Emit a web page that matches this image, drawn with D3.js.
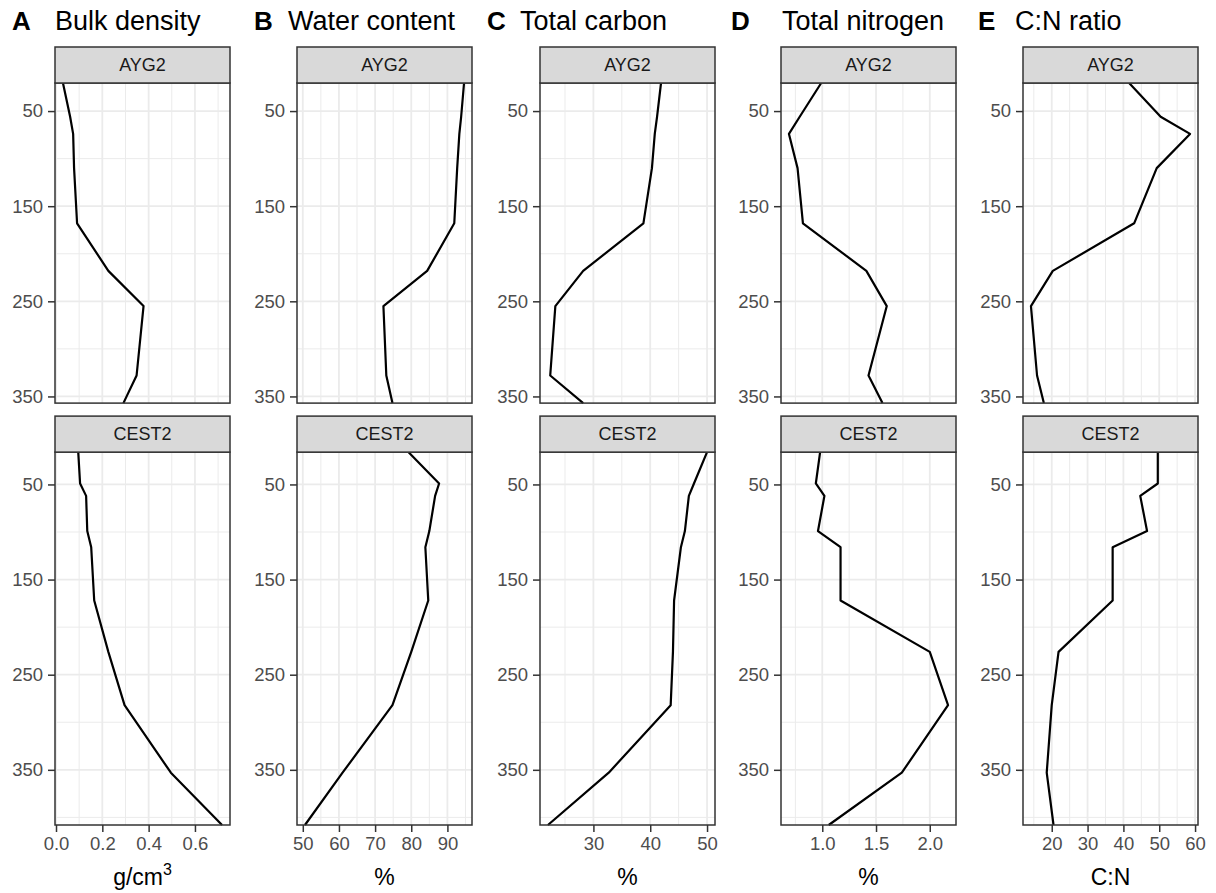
<!DOCTYPE html>
<html>
<head>
<meta charset="utf-8">
<script src="https://cdn.jsdelivr.net/npm/d3@7"></script>
<style>
  body { margin: 0; background: #fff; }
  svg { display: block; font-family: "Liberation Sans", Arial, sans-serif; }
</style>
</head>
<body>
<div id="chart"></div>
<script>
// Chart size
const width = 1216;
const height = 893;

// Sites (facet rows) and sample depths (cm, plotted downwards)
const sites = ["AYG2", "CEST2"];
const depthAYG2  = [20.5, 56, 74, 110, 168, 218, 255, 328, 357];
const depthCEST2 = [16, 49, 62, 99, 116, 172, 226, 282, 353, 408];

// A: bulk density (g/cm3)
const bulkAYG2  = [0.030, 0.061, 0.074, 0.078, 0.091, 0.226, 0.378, 0.348, 0.291];
const bulkCEST2 = [0.096, 0.104, 0.130, 0.135, 0.152, 0.165, 0.226, 0.296, 0.496, 0.717];

// B: water content (%)
const waterAYG2  = [94.6, 93.8, 93.3, 92.7, 91.9, 84.4, 72.3, 73.1, 74.8];
const waterCEST2 = [79.2, 87.7, 86.6, 85.0, 83.9, 84.7, 80.0, 74.8, 61.0, 50.6];

// C: total carbon (%)
const carbonAYG2  = [41.9, 41.2, 40.8, 40.3, 38.8, 28.2, 23.3, 22.4, 28.2];
const carbonCEST2 = [50.0, 47.7, 46.8, 46.1, 45.4, 44.2, 44.0, 43.6, 32.7, 22.0];

// D: total nitrogen (%)
const nitrogenAYG2  = [0.99, 0.79, 0.69, 0.77, 0.82, 1.41, 1.60, 1.43, 1.56];
const nitrogenCEST2 = [0.98, 0.94, 1.02, 0.96, 1.17, 1.17, 2.00, 2.17, 1.74, 1.06];

// E: C:N ratio
const cnAYG2  = [41.6, 50.4, 58.6, 49.3, 43.0, 20.3, 14.2, 15.9, 17.8];
const cnCEST2 = [49.6, 49.6, 44.7, 46.6, 37.0, 37.0, 21.9, 20.0, 18.6, 20.5];

// Tick labels
const depthTicks    = [50, 150, 250, 350];
const bulkTicks     = [0, 0.2, 0.4, 0.6];
const waterTicks    = [50, 60, 70, 80, 90];
const carbonTicks   = [30, 40, 50];
const nitrogenTicks = [1.0, 1.5, 2.0];
const cnTicks       = [20, 30, 40, 50, 60];

const panels = [
  { letter: "A", title: "Bulk density",   unit: "g/cm", sup: "3", data: { AYG2: bulkAYG2, CEST2: bulkCEST2 },         ticks: bulkTicks,     fmt: d3.format(".1f") },
  { letter: "B", title: "Water content",  unit: "%",              data: { AYG2: waterAYG2, CEST2: waterCEST2 },       ticks: waterTicks,    fmt: d3.format("d") },
  { letter: "C", title: "Total carbon",   unit: "%",              data: { AYG2: carbonAYG2, CEST2: carbonCEST2 },     ticks: carbonTicks,   fmt: d3.format("d") },
  { letter: "D", title: "Total nitrogen", unit: "%",              data: { AYG2: nitrogenAYG2, CEST2: nitrogenCEST2 }, ticks: nitrogenTicks, fmt: d3.format(".1f") },
  { letter: "E", title: "C:N ratio",      unit: "C:N",            data: { AYG2: cnAYG2, CEST2: cnCEST2 },             ticks: cnTicks,       fmt: d3.format("d") }
];
const depths = { AYG2: depthAYG2, CEST2: depthCEST2 };

// Layout
const panelLeft = [55, 297, 540, 781, 1023];
const panelW = 175;
const letterX = [12, 254, 487, 731, 978];
const titleX = [55, 288, 520, 782, 1015];
const stripH = 36;
const stripTop = 47;
const rowGap = 13;
const plotBottom = 825;

const colors = {
  border: "#333333",
  strip: "#d9d9d9",
  grid: "#ebebeb",
  tickText: "#4d4d4d"
};

// y ranges per site, no expansion (lines touch the panel edges)
const yExtent = {};
sites.forEach(s => yExtent[s] = d3.extent(depths[s]));
const totalUnits = d3.sum(sites, s => yExtent[s][1] - yExtent[s][0]);
const totalPx = plotBottom - stripTop - 2 * stripH - rowGap;
const pxPerUnit = totalPx / totalUnits;

const rows = {};
let cursor = stripTop;
sites.forEach(s => {
  let h = (yExtent[s][1] - yExtent[s][0]) * pxPerUnit;
  rows[s] = { stripTop: cursor, top: cursor + stripH, bottom: cursor + stripH + h };
  cursor = rows[s].bottom + rowGap;
});

let svg = d3.select('#chart').append('svg')
  .attr('width', width)
  .attr('height', height);

// minor breaks sit halfway between the major ones (ggplot style)
function minorBreaks(ticks, domain) {
  let step = ticks[1] - ticks[0];
  let out = [];
  for (let v = ticks[0] - step / 2; v <= ticks[ticks.length - 1] + step; v += step) {
    if (v >= domain[0] && v <= domain[1]) out.push(v);
  }
  return out;
}

panels.forEach((p, i) => {
  let x0 = panelLeft[i];
  let all = p.data.AYG2.concat(p.data.CEST2);
  let ext = d3.extent(all);
  let pad = (ext[1] - ext[0]) * 0.05;
  let x = d3.scaleLinear().domain([ext[0] - pad, ext[1] + pad]).range([x0, x0 + panelW]);

  // headings
  svg.append('text')
    .attr('x', letterX[i]).attr('y', 30)
    .style('font-size', '26px').style('font-weight', 'bold')
    .text(p.letter);
  svg.append('text')
    .attr('x', titleX[i]).attr('y', 30)
    .style('font-size', '27px')
    .text(p.title);

  sites.forEach((s, j) => {
    let r = rows[s];
    let y = d3.scaleLinear().domain(yExtent[s]).range([r.top, r.bottom]);
    let g = svg.append('g');

    // grid
    let minorX = minorBreaks(p.ticks, x.domain());
    let minorY = minorBreaks(depthTicks, y.domain());
    g.selectAll('.vminor').data(minorX).enter().append('line')
      .attr('x1', d => x(d)).attr('x2', d => x(d))
      .attr('y1', r.top).attr('y2', r.bottom)
      .attr('stroke', colors.grid).attr('stroke-width', 1);
    g.selectAll('.hminor').data(minorY).enter().append('line')
      .attr('x1', x0).attr('x2', x0 + panelW)
      .attr('y1', d => y(d)).attr('y2', d => y(d))
      .attr('stroke', colors.grid).attr('stroke-width', 1);
    g.selectAll('.vmajor').data(p.ticks.filter(t => t >= x.domain()[0] && t <= x.domain()[1])).enter().append('line')
      .attr('x1', d => x(d)).attr('x2', d => x(d))
      .attr('y1', r.top).attr('y2', r.bottom)
      .attr('stroke', colors.grid).attr('stroke-width', 1.8);
    g.selectAll('.hmajor').data(depthTicks.filter(t => t >= y.domain()[0] && t <= y.domain()[1])).enter().append('line')
      .attr('x1', x0).attr('x2', x0 + panelW)
      .attr('y1', d => y(d)).attr('y2', d => y(d))
      .attr('stroke', colors.grid).attr('stroke-width', 1.8);

    // profile line
    let pts = depths[s].map((d, k) => [p.data[s][k], d]);
    g.append('path')
      .datum(pts)
      .attr('fill', 'none')
      .attr('stroke', '#000')
      .attr('stroke-width', 2.2)
      .attr('stroke-linejoin', 'round')
      .attr('d', d3.line().x(d => x(d[0])).y(d => y(d[1])));

    // panel border
    g.append('rect')
      .attr('x', x0).attr('y', r.top)
      .attr('width', panelW).attr('height', r.bottom - r.top)
      .attr('fill', 'none').attr('stroke', colors.border).attr('stroke-width', 1.5);

    // strip
    g.append('rect')
      .attr('x', x0).attr('y', r.stripTop)
      .attr('width', panelW).attr('height', stripH)
      .attr('fill', colors.strip).attr('stroke', colors.border).attr('stroke-width', 1.5);
    g.append('text')
      .attr('x', x0 + panelW / 2).attr('y', r.stripTop + stripH / 2)
      .attr('dy', '0.35em')
      .attr('text-anchor', 'middle')
      .style('font-size', '18px').style('fill', '#1a1a1a')
      .text(s);

    // y axis
    let yAxis = svg.append('g')
      .attr('transform', `translate(${x0},0)`)
      .call(d3.axisLeft(y).tickValues(depthTicks.filter(t => t >= y.domain()[0] && t <= y.domain()[1])).tickSize(7).tickPadding(5));
    styleAxis(yAxis);

    // x axis on the bottom row only
    if (j === sites.length - 1) {
      let xAxis = svg.append('g')
        .attr('transform', `translate(0,${r.bottom})`)
        .call(d3.axisBottom(x).tickValues(p.ticks).tickFormat(p.fmt).tickSize(7).tickPadding(5));
      styleAxis(xAxis);

      let t = svg.append('text')
        .attr('x', x0 + panelW / 2).attr('y', 885)
        .attr('text-anchor', 'middle')
        .style('font-size', '23px')
        .text(p.unit);
      if (p.sup) {
        t.append('tspan').attr('dy', -10).style('font-size', '16px').text(p.sup);
      }
    }
  });
});

function styleAxis(sel) {
  sel.select('.domain').remove();
  sel.selectAll('.tick line').attr('stroke', colors.border).attr('stroke-width', 1.5);
  sel.selectAll('.tick text')
    .style('font-family', '"Liberation Sans", Arial, sans-serif')
    .style('font-size', '18.5px')
    .attr('fill', colors.tickText);
}
</script>
</body>
</html>
